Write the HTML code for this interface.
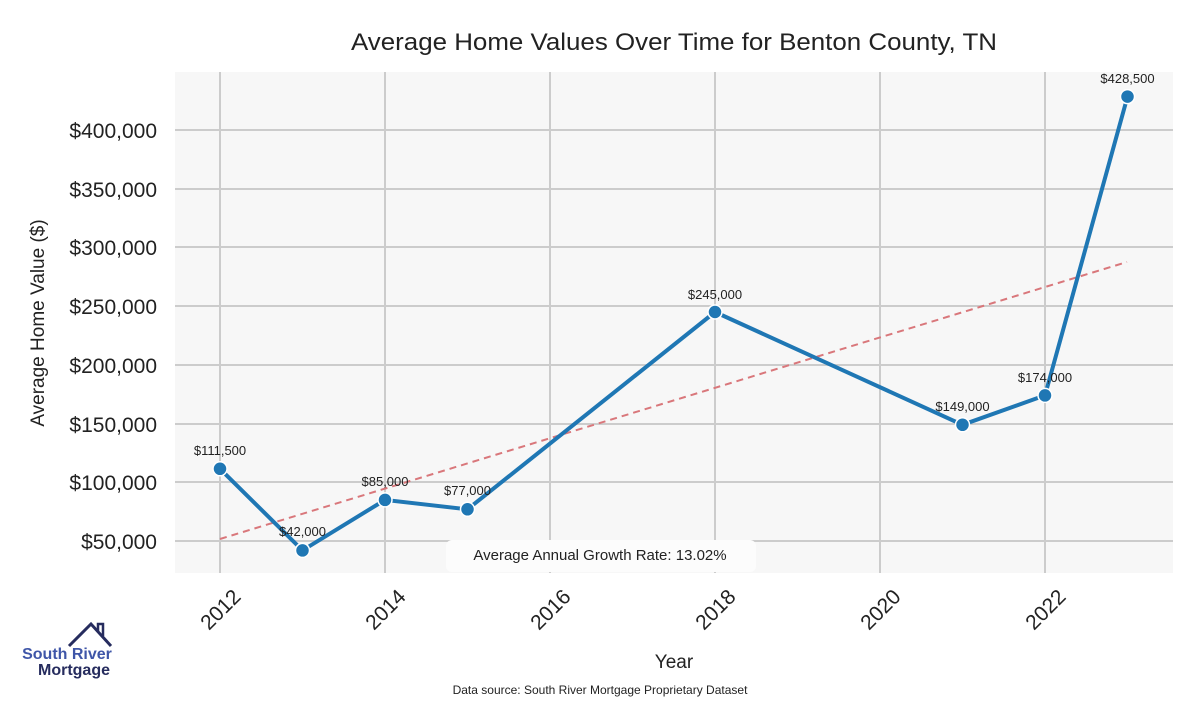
<!DOCTYPE html>
<html><head><meta charset="utf-8"><style>body{margin:0;background:#fff}svg text{font-family:"Liberation Sans",sans-serif}</style></head>
<body>
<svg width="1200" height="700" viewBox="0 0 1200 700" xmlns="http://www.w3.org/2000/svg">
<rect x="175" y="72" width="998" height="501" fill="#f7f7f7"/>
<g stroke="#cccccc" stroke-width="2">
<line x1="220" y1="72" x2="220" y2="573"/><line x1="385" y1="72" x2="385" y2="573"/><line x1="550" y1="72" x2="550" y2="573"/><line x1="715" y1="72" x2="715" y2="573"/><line x1="880" y1="72" x2="880" y2="573"/><line x1="1045" y1="72" x2="1045" y2="573"/>
<line x1="175" y1="130" x2="1173" y2="130"/><line x1="175" y1="189" x2="1173" y2="189"/><line x1="175" y1="247" x2="1173" y2="247"/><line x1="175" y1="306" x2="1173" y2="306"/><line x1="175" y1="365" x2="1173" y2="365"/><line x1="175" y1="424" x2="1173" y2="424"/><line x1="175" y1="482" x2="1173" y2="482"/><line x1="175" y1="541" x2="1173" y2="541"/>
</g>
<g font-size="21" fill="#222" text-anchor="end">
<text x="157" y="138">$400,000</text><text x="157" y="197">$350,000</text><text x="157" y="255">$300,000</text><text x="157" y="314">$250,000</text><text x="157" y="373">$200,000</text><text x="157" y="432">$150,000</text><text x="157" y="490">$100,000</text><text x="157" y="549">$50,000</text>
</g>
<g font-size="21" fill="#222" text-anchor="end">
<text transform="translate(242,598) rotate(-45)">2012</text><text transform="translate(407,598) rotate(-45)">2014</text><text transform="translate(572,598) rotate(-45)">2016</text><text transform="translate(737,598) rotate(-45)">2018</text><text transform="translate(902,598) rotate(-45)">2020</text><text transform="translate(1067,598) rotate(-45)">2022</text>
</g>
<text x="674" y="50" font-size="24" fill="#222" text-anchor="middle" textLength="646" lengthAdjust="spacingAndGlyphs">Average Home Values Over Time for Benton County, TN</text>
<text x="674" y="668" font-size="19" fill="#222" text-anchor="middle">Year</text>
<text transform="translate(44,323) rotate(-90)" font-size="19" fill="#222" text-anchor="middle">Average Home Value ($)</text>
<text x="600" y="694" font-size="12" fill="#222" text-anchor="middle">Data source: South River Mortgage Proprietary Dataset</text>
<line x1="220" y1="539" x2="1127" y2="262" stroke="#d9777b" stroke-width="2" stroke-dasharray="7,5"/>
<polyline points="220,468.8 302.5,550.4 385,499.9 467.5,509.3 715,312 962.5,424.8 1045,395.4 1127.5,96.6" fill="none" stroke="#1f77b4" stroke-width="4"/>
<g fill="#1f77b4" stroke="#fff" stroke-width="1.5">
<circle cx="220" cy="468.8" r="7"/><circle cx="302.5" cy="550.4" r="7"/><circle cx="385" cy="499.9" r="7"/><circle cx="467.5" cy="509.3" r="7"/><circle cx="715" cy="312" r="7"/><circle cx="962.5" cy="424.8" r="7"/><circle cx="1045" cy="395.4" r="7"/><circle cx="1127.5" cy="96.6" r="7"/>
</g>
<g font-size="13" fill="#222" text-anchor="middle">
<text x="220" y="455">$111,500</text><text x="302.5" y="536">$42,000</text><text x="385" y="486">$85,000</text><text x="467.5" y="495">$77,000</text><text x="715" y="299">$245,000</text><text x="962.5" y="411">$149,000</text><text x="1045" y="382">$174,000</text><text x="1127.5" y="83">$428,500</text>
</g>
<rect x="446" y="540" width="310" height="32" rx="6" fill="#fcfcfc"/>
<text x="600" y="560" font-size="15" fill="#222" text-anchor="middle">Average Annual Growth Rate: 13.02%</text>
<polyline points="69,646 91,624 111,646" fill="none" stroke="#262c5e" stroke-width="3"/>
<polyline points="98,631 98,624 103,624 103,636" fill="none" stroke="#262c5e" stroke-width="2.5"/>
<text x="67" y="659" font-size="16" font-weight="bold" fill="#3f56a8" text-anchor="middle">South River</text>
<text x="74" y="675" font-size="16" font-weight="bold" fill="#262c5e" text-anchor="middle">Mortgage</text>
</svg>
</body></html>
